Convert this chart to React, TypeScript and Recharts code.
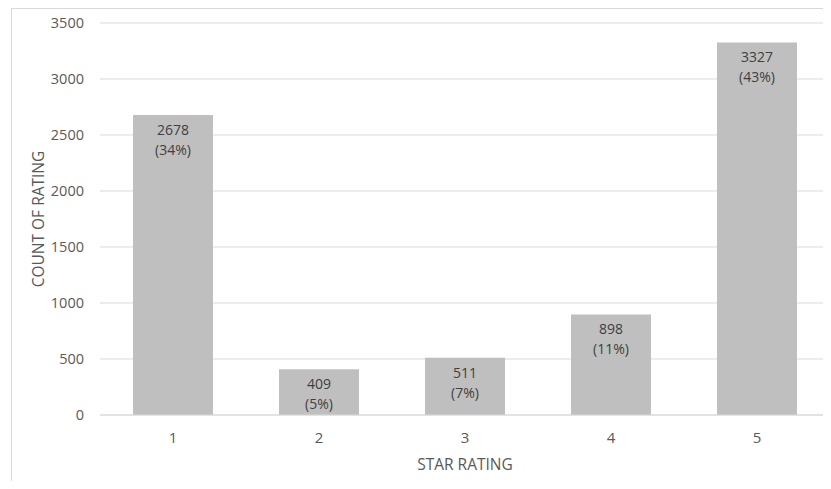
import { Bar, BarChart, CartesianGrid, LabelList, XAxis, YAxis } from "recharts";

const ratings = ["1", "2", "3", "4", "5"];
const counts = [2678, 409, 511, 898, 3327];
const shares = ["34%", "5%", "7%", "11%", "43%"];
const yTicks = [0, 500, 1000, 1500, 2000, 2500, 3000, 3500];

const data = ratings.map((rating, i) => ({ rating, count: counts[i], share: shares[i] }));

const font = "'Open Sans', 'Noto Sans', sans-serif";

function BarLabel(props: any) {
  const { x, y, width, index } = props;
  const cx = x + width / 2;
  return (
    <text x={cx} y={y} textAnchor="middle" fill="#404040" fontSize={14} fontFamily={font}>
      <tspan x={cx} dy={20}>{counts[index]}</tspan>
      <tspan x={cx} dy={20}>({shares[index]})</tspan>
    </text>
  );
}

export default function App() {
  return (
    <div style={{ margin: -8, width: 831, height: 489, position: "relative", overflow: "hidden", background: "#fff" }}>
      <div
        style={{
          position: "absolute",
          left: 11,
          top: 8,
          width: 840,
          height: 500,
          border: "1px solid #d9d9d9"
        }}
      />
      <div style={{ position: "absolute", left: 0, top: 0 }}>
        <BarChart
          width={831}
          height={489}
          data={data}
          margin={{ top: 23, right: 1, bottom: 0, left: 0 }}
          barCategoryGap="22.6%"
        >
          <CartesianGrid vertical={false} stroke="#d9d9d9" />
          <XAxis
            dataKey="rating"
            height={74}
            tickLine={false}
            axisLine={{ stroke: "#d9d9d9" }}
            tickMargin={11}
            tick={{ fill: "#595959", fontSize: 15, fontFamily: font }}
            label={{
              value: "STAR RATING",
              position: "insideBottom",
              offset: 19,
              fill: "#595959",
              fontSize: 15.5,
              fontFamily: font
            }}
          />
          <YAxis
            width={100}
            domain={[0, 3500]}
            ticks={yTicks}
            tickLine={false}
            axisLine={false}
            tickMargin={10}
            tick={{ fill: "#595959", fontSize: 14.5, fontFamily: font }}
            label={{
              value: "COUNT OF RATING",
              angle: -90,
              position: "center",
              dx: -11.5,
              fill: "#595959",
              fontSize: 15.5,
              fontFamily: font
            }}
          />
          <Bar dataKey="count" fill="#bfbfbf" isAnimationActive={false}>
            <LabelList dataKey="count" content={BarLabel} />
          </Bar>
        </BarChart>
      </div>
    </div>
  );
}
